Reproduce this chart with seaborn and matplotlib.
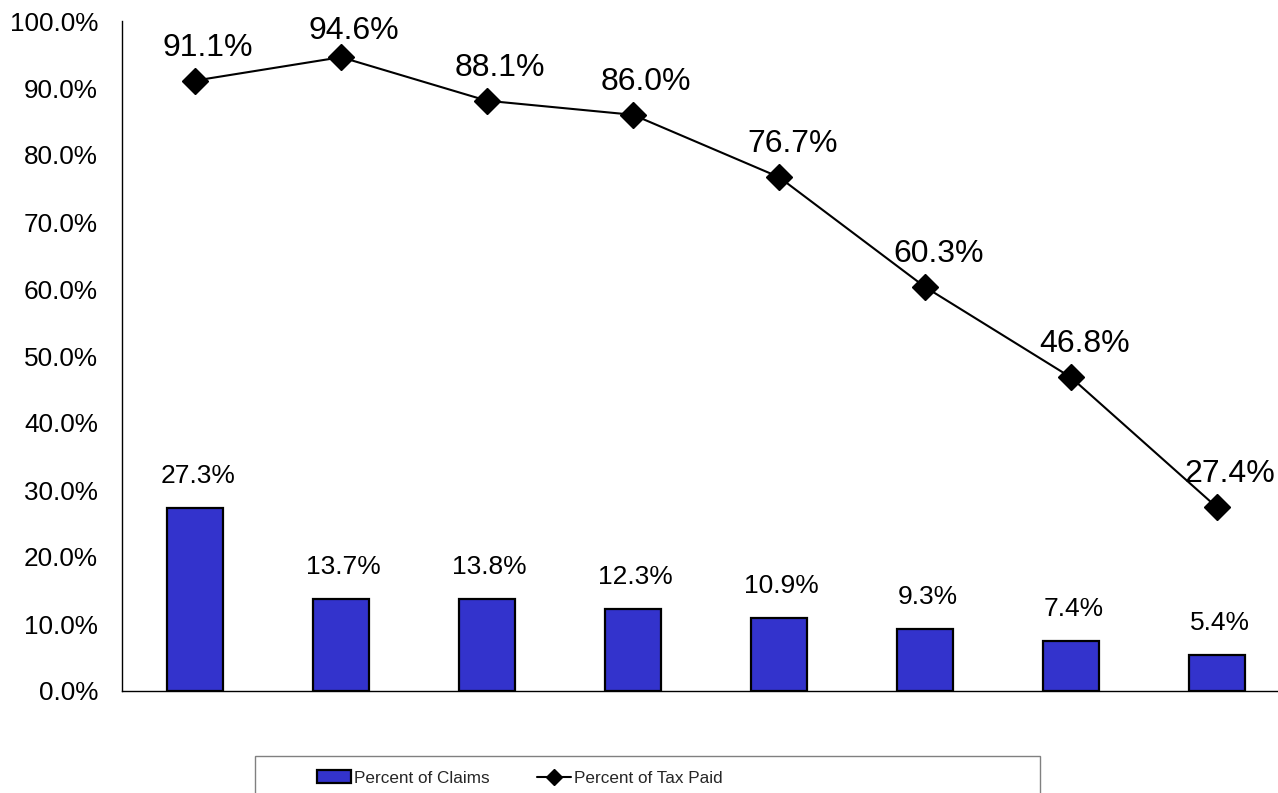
import matplotlib
matplotlib.use("Agg")
import matplotlib.pyplot as plt
import matplotlib.font_manager as fm
import seaborn as sns
import numpy as np
import pandas as pd
from matplotlib.patches import Rectangle, Patch
from matplotlib.lines import Line2D
from matplotlib.ticker import FuncFormatter

# ---------------- data ----------------
categories = ["1", "2", "3", "4", "5", "6", "7", "8"]
pct_claims = [27.3, 13.7, 13.8, 12.3, 10.9, 9.3, 7.4, 5.4]
pct_tax_paid = [91.1, 94.6, 88.1, 86.0, 76.7, 60.3, 46.8, 27.4]
y_ticks = [0, 10, 20, 30, 40, 50, 60, 70, 80, 90, 100]
series_names = ["Percent of Claims", "Percent of Tax Paid"]

BAR_COLOR = "#3333CC"
W, H = 1278, 793

sns.set_style("white")
plt.rcParams["font.family"] = ["Liberation Sans", "DejaVu Sans"]

installed = {f.name for f in fm.fontManager.ttflist}
if "Liberation Sans Narrow" in installed:
    legend_font = dict(family="Liberation Sans Narrow", size=13.5)
else:
    legend_font = dict(family="Liberation Sans", size=12.3)

fig = plt.figure(figsize=(W / 100, H / 100), dpi=100)
ax = fig.add_axes([122 / W, 102 / H, 1168 / W, 670 / H])

df = pd.DataFrame({"cat": categories, "claims": pct_claims,
                   "tax": pct_tax_paid, "pos": np.arange(len(categories))})

sns.barplot(data=df, x="cat", y="claims", color=BAR_COLOR, saturation=1,
            width=0.39, edgecolor="black", linewidth=1.6, ax=ax)
sns.lineplot(data=df, x="pos", y="tax", color="black", marker="D",
             markersize=13, markeredgecolor="black", markeredgewidth=1,
             linewidth=1.5, ax=ax)

ax.set_xlim(-0.5, len(categories) - 0.5)
ax.set_ylim(0, 100)
ax.set_yticks(y_ticks)
ax.yaxis.set_major_formatter(FuncFormatter(lambda v, p: f"{v:.1f}%"))
ax.set_xlabel("")
ax.set_ylabel("")
ax.tick_params(axis="x", length=0, labelbottom=False)
ax.tick_params(axis="y", direction="inout", length=11.5, width=0.8,
               color="#444444", labelsize=18.8, pad=11.5, labelcolor="black")
for s in ["top", "right"]:
    ax.spines[s].set_visible(False)
for s in ["left", "bottom"]:
    ax.spines[s].set_color("black")
    ax.spines[s].set_linewidth(1.0)

# bar labels
for i, v in enumerate(pct_claims):
    ax.annotate(f"{v:.1f}%", xy=(i, v), xytext=(2, 18),
                textcoords="offset points", ha="center", va="baseline",
                fontsize=19, color="black", annotation_clip=False)

# line labels
fig.canvas.draw()
for i, v in enumerate(pct_tax_paid):
    y_px = ax.transData.transform((i, v))[1]
    off_px = 25
    max_base = H - 17 - 22
    off_px = min(off_px, max_base - y_px)
    ax.annotate(f"{v:.1f}%", xy=(i, v), xytext=(9.5, off_px * 0.72),
                textcoords="offset points", ha="center", va="baseline",
                fontsize=23, color="black", annotation_clip=False)

# legend
handles = [Patch(facecolor=BAR_COLOR, edgecolor="black", linewidth=1.6),
           Line2D([], [], color="black", marker="D", markersize=8, linewidth=1.5)]
fig.add_artist(Rectangle((255 / W, -0.05), (1040 - 255) / W, (H - 756) / H + 0.05,
                         transform=fig.transFigure, facecolor="white",
                         edgecolor="#808080", linewidth=1.0))
fig.legend(handles, series_names, loc="center left",
           bbox_to_anchor=(317 / W, 15 / H), ncol=2, frameon=False,
           prop=legend_font, handlelength=2.0, handleheight=0.75,
           handletextpad=0.15, columnspacing=2.8, borderpad=0, borderaxespad=0)

fig.savefig("out.png", dpi=100)
